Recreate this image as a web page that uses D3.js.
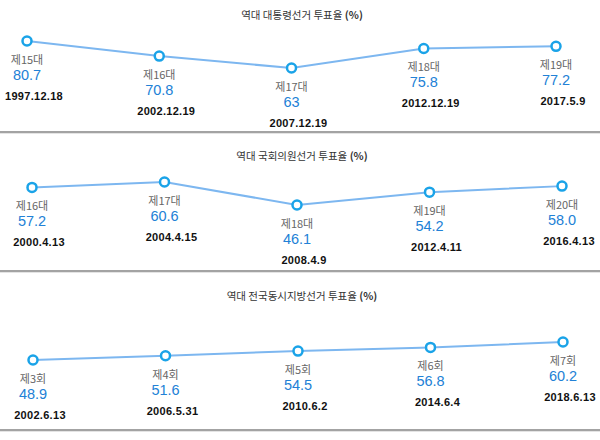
<!DOCTYPE html>
<html>
<head>
<meta charset="utf-8">
<script src="https://cdn.jsdelivr.net/npm/d3@7"></script>
<style>
  body { margin: 0; background: #fff; }
  text { font-family: "Noto Sans CJK KR", "Noto Sans", sans-serif; }
  .val, .date { font-family: "Liberation Sans", Arial, sans-serif; }
</style>
</head>
<body>
<div id="chart"></div>
<script>
// 대통령선거
const presTitle = "역대 대통령선거 투표율";
const presTerms = ["제15대", "제16대", "제17대", "제18대", "제19대"];
const presRates = [80.7, 70.8, 63, 75.8, 77.2];
const presLabels = ["80.7", "70.8", "63", "75.8", "77.2"];
const presDates = ["1997.12.18", "2002.12.19", "2007.12.19", "2012.12.19", "2017.5.9"];

// 국회의원선거
const assemTitle = "역대 국회의원선거 투표율";
const assemTerms = ["제16대", "제17대", "제18대", "제19대", "제20대"];
const assemRates = [57.2, 60.6, 46.1, 54.2, 58.0];
const assemLabels = ["57.2", "60.6", "46.1", "54.2", "58.0"];
const assemDates = ["2000.4.13", "2004.4.15", "2008.4.9", "2012.4.11", "2016.4.13"];

// 전국동시지방선거
const localTitle = "역대 전국동시지방선거 투표율";
const localTerms = ["제3회", "제4회", "제5회", "제6회", "제7회"];
const localRates = [48.9, 51.6, 54.5, 56.8, 60.2];
const localLabels = ["48.9", "51.6", "54.5", "56.8", "60.2"];
const localDates = ["2002.6.13", "2006.5.31", "2010.6.2", "2014.6.4", "2018.6.13"];

const unit = "(%)";

const width = 600, height = 440;

const svg = d3.select("#chart").append("svg")
    .attr("width", width)
    .attr("height", height);

const panels = [
    { title: presTitle, terms: presTerms, rates: presRates, labels: presLabels, dates: presDates,
      titleY: 14, xRange: [27, 556], yRange: [68, 41], sepY: 131 },
    { title: assemTitle, terms: assemTerms, rates: assemRates, labels: assemLabels, dates: assemDates,
      titleY: 155, xRange: [32, 562], yRange: [205, 182], sepY: 270 },
    { title: localTitle, terms: localTerms, rates: localRates, labels: localLabels, dates: localDates,
      titleY: 295, xRange: [33, 563], yRange: [360, 342], sepY: 429 }
];

panels.forEach(p => {
    const g = svg.append("g");
    const data = p.terms.map((t, i) => ({ term: t, rate: p.rates[i], label: p.labels[i], date: p.dates[i] }));

    const x = d3.scalePoint()
        .domain(p.terms)
        .range(p.xRange);
    const y = d3.scaleLinear()
        .domain(d3.extent(p.rates))
        .range(p.yRange);

    // title
    const title = g.append("text")
        .attr("x", width / 2 + 2)
        .attr("y", p.titleY)
        .attr("text-anchor", "middle")
        .attr("dominant-baseline", "central")
        .attr("font-size", 10.5)
        .attr("fill", "#333");
    title.append("tspan").text(p.title + " ");
    title.append("tspan").attr("font-weight", "bold").text(unit);

    const line = d3.line()
        .x(d => x(d.term))
        .y(d => y(d.rate));

    g.append("path")
        .datum(data)
        .attr("d", line)
        .attr("fill", "none")
        .attr("stroke", "#7db7f0")
        .attr("stroke-width", 2);

    g.selectAll("circle")
        .data(data)
        .join("circle")
        .attr("cx", d => x(d.term))
        .attr("cy", d => y(d.rate))
        .attr("r", 4.5)
        .attr("fill", "#fff")
        .attr("stroke", "#1aa3e8")
        .attr("stroke-width", 2.5);

    g.selectAll(".term")
        .data(data)
        .join("text")
        .attr("class", "term")
        .attr("x", d => x(d.term))
        .attr("y", d => y(d.rate) + 18)
        .attr("text-anchor", "middle")
        .attr("dominant-baseline", "central")
        .attr("font-size", 11)
        .attr("fill", "#666")
        .text(d => d.term);

    g.selectAll(".val")
        .data(data)
        .join("text")
        .attr("class", "val")
        .attr("x", d => x(d.term))
        .attr("y", d => y(d.rate) + 34)
        .attr("text-anchor", "middle")
        .attr("dominant-baseline", "central")
        .attr("font-size", 14.5)
        .attr("fill", "#2281d6")
        .text(d => d.label);

    g.selectAll(".date")
        .data(data)
        .join("text")
        .attr("class", "date")
        .attr("x", d => x(d.term) + 7)
        .attr("y", d => y(d.rate) + 55)
        .attr("text-anchor", "middle")
        .attr("dominant-baseline", "central")
        .attr("font-size", 11)
        .attr("font-weight", "bold")
        .attr("letter-spacing", 0.3)
        .attr("fill", "#111")
        .text(d => d.date);

    // separator
    g.append("rect")
        .attr("x", 0)
        .attr("y", p.sepY)
        .attr("width", width)
        .attr("height", 2)
        .attr("fill", "#a3a3a3");
    g.append("rect")
        .attr("x", 0)
        .attr("y", p.sepY + 2)
        .attr("width", width)
        .attr("height", 1)
        .attr("fill", "#e4e4e4");
});
</script>
</body>
</html>
